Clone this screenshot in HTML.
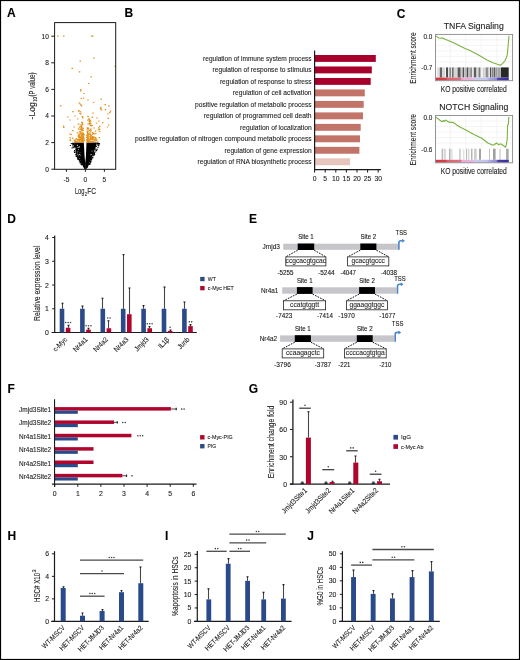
<!DOCTYPE html>
<html><head><meta charset="utf-8"><title>Figure</title>
<style>
html,body{margin:0;padding:0;background:#fff;}
svg{display:block;font-family:"Liberation Sans", sans-serif;will-change:transform;}
text{stroke:#222;stroke-width:0.1px;}
</style></head>
<body>
<svg width="520" height="660" viewBox="0 0 520 660">
<defs><linearGradient id="cbar" x1="0" x2="1" y1="0" y2="0">
<stop offset="0" stop-color="#d6363e"/><stop offset="0.14" stop-color="#d84048"/><stop offset="0.16" stop-color="#da6470"/><stop offset="0.34" stop-color="#dc7280"/>
<stop offset="0.36" stop-color="#e6acd8"/><stop offset="0.51" stop-color="#e8b4dc"/><stop offset="0.53" stop-color="#cacaf0"/><stop offset="0.70" stop-color="#c2c2ee"/>
<stop offset="0.74" stop-color="#a8a8e2"/><stop offset="0.83" stop-color="#8c8cd6"/><stop offset="0.85" stop-color="#4c3eae"/><stop offset="1" stop-color="#3a2c9e"/>
</linearGradient></defs>
<rect width="520" height="660" fill="#fff"/>
<rect x="0.5" y="0.5" width="519" height="659" fill="none" stroke="#000" stroke-width="1.2"/>
<text x="7.00" y="17.00" font-size="12" font-weight="bold" fill="#000">A</text>
<text x="124.60" y="17.00" font-size="12" font-weight="bold" fill="#000">B</text>
<text x="396.80" y="17.50" font-size="12" font-weight="bold" fill="#000">C</text>
<text x="7.20" y="222.90" font-size="12" font-weight="bold" fill="#000">D</text>
<text x="249.00" y="222.80" font-size="12" font-weight="bold" fill="#000">E</text>
<text x="7.60" y="392.80" font-size="12" font-weight="bold" fill="#000">F</text>
<text x="248.80" y="393.00" font-size="12" font-weight="bold" fill="#000">G</text>
<text x="7.60" y="539.80" font-size="12" font-weight="bold" fill="#000">H</text>
<text x="164.90" y="539.60" font-size="12" font-weight="bold" fill="#000">I</text>
<text x="307.20" y="539.70" font-size="12" font-weight="bold" fill="#000">J</text>
<path d="M76.30 142.60 L77.00 150.00 L78.60 156.50 L81.10 162.60 L83.50 167.50 L84.70 169.30 L85.20 169.30 L85.20 162.80 L84.60 156.50 L83.80 142.60 Z M97.00 142.60 L94.80 150.00 L92.20 156.50 L89.70 162.60 L87.80 167.50 L86.10 169.30 L85.30 169.30 L85.30 162.80 L85.90 156.50 L86.50 142.60 Z" fill="#000"/>
<path d="M73.9 146.5h1v1h-1zM74.6 142.8h1v1h-1zM75.8 142.7h1v1h-1zM76.3 148.7h1v1h-1zM94.8 148.5h1v1h-1zM98.4 144.7h1v1h-1zM74.0 152.0h1v1h-1zM97.0 142.6h1v1h-1zM75.0 143.6h1v1h-1zM78.1 158.6h1v1h-1zM76.2 153.6h1v1h-1zM75.3 142.7h1v1h-1zM77.2 154.7h1v1h-1zM76.5 152.3h1v1h-1zM91.1 158.0h1v1h-1zM74.4 152.0h1v1h-1zM75.7 156.1h1v1h-1zM72.7 143.3h1v1h-1zM75.9 143.7h1v1h-1zM93.2 154.4h1v1h-1zM78.8 160.4h1v1h-1zM76.1 152.5h1v1h-1zM90.9 159.3h1v1h-1zM75.9 154.3h1v1h-1zM94.1 153.9h1v1h-1zM73.6 145.7h1v1h-1zM75.4 142.5h1v1h-1zM72.6 143.3h1v1h-1zM74.6 143.4h1v1h-1zM79.2 160.3h1v1h-1zM95.2 151.4h1v1h-1zM79.2 160.1h1v1h-1zM97.5 147.1h1v1h-1zM75.3 143.7h1v1h-1zM73.9 144.9h1v1h-1zM74.7 145.4h1v1h-1zM72.6 147.3h1v1h-1zM76.4 155.0h1v1h-1zM75.3 154.6h1v1h-1zM92.2 157.6h1v1h-1zM76.1 147.8h1v1h-1zM77.4 153.5h1v1h-1zM74.9 144.5h1v1h-1zM75.4 142.7h1v1h-1zM75.9 143.1h1v1h-1zM79.7 160.4h1v1h-1zM74.9 145.2h1v1h-1zM99.1 143.3h1v1h-1zM76.3 149.4h1v1h-1zM75.1 143.1h1v1h-1zM79.3 159.0h1v1h-1zM80.8 162.8h1v1h-1zM75.5 151.2h1v1h-1zM89.2 163.7h1v1h-1zM75.7 145.3h1v1h-1zM76.9 157.3h1v1h-1zM73.1 146.6h1v1h-1zM89.2 163.9h1v1h-1zM90.8 158.7h1v1h-1zM76.7 150.6h1v1h-1zM75.0 142.5h1v1h-1zM92.7 155.1h1v1h-1zM90.1 162.4h1v1h-1zM75.7 147.2h1v1h-1zM73.6 144.3h1v1h-1zM90.0 161.2h1v1h-1zM92.6 154.0h1v1h-1zM93.8 154.2h1v1h-1zM78.1 156.7h1v1h-1zM77.2 157.8h1v1h-1zM80.9 163.5h1v1h-1zM89.1 162.7h1v1h-1zM71.9 143.4h1v1h-1zM77.4 158.3h1v1h-1zM88.8 163.8h1v1h-1zM76.9 151.3h1v1h-1zM89.1 163.4h1v1h-1zM79.4 162.2h1v1h-1zM78.9 158.9h1v1h-1zM74.1 145.9h1v1h-1zM75.8 145.3h1v1h-1zM79.7 161.5h1v1h-1zM93.9 152.2h1v1h-1zM79.7 161.7h1v1h-1zM75.6 150.7h1v1h-1zM72.6 144.1h1v1h-1zM73.0 144.0h1v1h-1zM75.6 151.5h1v1h-1zM93.6 151.5h1v1h-1zM76.4 151.6h1v1h-1zM77.5 157.3h1v1h-1zM91.9 157.0h1v1h-1zM76.1 152.9h1v1h-1zM76.7 155.1h1v1h-1zM95.7 149.7h1v1h-1zM90.1 160.5h1v1h-1zM95.2 151.6h1v1h-1zM74.4 143.5h1v1h-1zM75.7 142.8h1v1h-1zM93.9 154.5h1v1h-1zM97.7 143.7h1v1h-1zM98.9 143.6h1v1h-1zM96.6 144.7h1v1h-1zM96.0 149.9h1v1h-1zM74.1 143.8h1v1h-1zM75.3 146.7h1v1h-1zM76.9 155.9h1v1h-1zM75.6 148.8h1v1h-1zM77.3 153.2h1v1h-1zM89.4 163.9h1v1h-1zM75.8 143.1h1v1h-1zM78.6 157.5h1v1h-1zM96.5 148.4h1v1h-1zM72.3 145.3h1v1h-1zM93.4 151.9h1v1h-1zM97.3 142.7h1v1h-1zM98.0 142.8h1v1h-1zM77.2 158.2h1v1h-1zM97.4 142.8h1v1h-1zM72.6 146.7h1v1h-1zM74.3 145.4h1v1h-1zM75.7 145.0h1v1h-1zM74.8 142.6h1v1h-1zM95.8 146.1h1v1h-1zM75.8 150.2h1v1h-1zM75.8 142.5h1v1h-1zM77.9 156.2h1v1h-1zM94.4 149.6h1v1h-1zM78.4 158.7h1v1h-1zM78.6 159.2h1v1h-1zM92.6 154.9h1v1h-1zM91.2 159.1h1v1h-1zM76.3 148.1h1v1h-1zM72.8 143.4h1v1h-1zM75.9 145.2h1v1h-1zM91.1 159.4h1v1h-1zM75.3 145.7h1v1h-1zM75.2 149.3h1v1h-1zM98.2 145.4h1v1h-1zM73.8 151.3h1v1h-1zM76.2 146.2h1v1h-1zM74.7 147.6h1v1h-1zM76.0 144.4h1v1h-1zM74.8 145.4h1v1h-1zM74.8 142.6h1v1h-1zM74.2 144.9h1v1h-1zM92.5 156.7h1v1h-1zM79.5 160.5h1v1h-1zM80.6 163.9h1v1h-1zM75.2 153.7h1v1h-1zM90.5 160.9h1v1h-1zM78.2 158.5h1v1h-1zM95.7 150.3h1v1h-1zM77.5 158.9h1v1h-1zM92.4 154.8h1v1h-1zM74.6 142.5h1v1h-1zM97.6 143.1h1v1h-1zM94.0 153.3h1v1h-1zM74.0 149.9h1v1h-1zM77.3 156.6h1v1h-1zM75.7 154.2h1v1h-1zM75.3 145.2h1v1h-1zM76.4 156.1h1v1h-1zM81.0 163.6h1v1h-1zM95.9 149.7h1v1h-1zM92.9 153.1h1v1h-1zM72.9 143.6h1v1h-1zM76.2 146.1h1v1h-1zM73.1 142.7h1v1h-1zM92.4 155.1h1v1h-1zM75.5 150.6h1v1h-1zM96.5 143.3h1v1h-1zM88.6 163.7h1v1h-1zM96.7 149.2h1v1h-1zM76.0 149.0h1v1h-1zM80.1 162.6h1v1h-1zM71.7 143.6h1v1h-1zM97.3 143.5h1v1h-1zM89.9 160.8h1v1h-1zM80.2 161.1h1v1h-1zM74.1 142.4h1v1h-1zM75.1 146.1h1v1h-1zM95.2 146.3h1v1h-1zM91.5 156.7h1v1h-1zM90.2 162.0h1v1h-1zM74.9 145.8h1v1h-1zM81.4 164.4h1v1h-1zM76.3 148.6h1v1h-1zM96.8 143.1h1v1h-1zM80.4 162.3h1v1h-1zM69.8 145.1h1v1h-1zM70.7 143.1h1v1h-1zM71.5 147.5h1v1h-1zM72.1 142.8h1v1h-1zM98.7 142.9h1v1h-1zM98.1 144.7h1v1h-1z" fill="#000"/>
<path d="M78.0 149.3h0.7v0.7h-0.7zM90.3 154.6h0.7v0.7h-0.7zM91.6 150.7h0.7v0.7h-0.7zM93.8 149.7h0.7v0.7h-0.7zM79.6 151.9h0.7v0.7h-0.7zM77.6 150.9h0.7v0.7h-0.7zM79.5 154.3h0.7v0.7h-0.7zM78.8 147.3h0.7v0.7h-0.7zM80.1 154.9h0.7v0.7h-0.7zM77.9 146.8h0.7v0.7h-0.7zM77.2 145.2h0.7v0.7h-0.7zM78.8 154.0h0.7v0.7h-0.7zM91.3 154.0h0.7v0.7h-0.7zM76.9 144.8h0.7v0.7h-0.7zM77.5 147.3h0.7v0.7h-0.7zM79.0 146.3h0.7v0.7h-0.7z" fill="#fff"/>
<path d="M90.4 130.3h1.5v1.2h-1.5zM80.3 139.1h1.5v1.2h-1.5zM75.7 138.1h1.5v1.2h-1.5zM87.4 137.7h1.5v1.2h-1.5zM80.1 113.3h1.5v1.2h-1.5zM88.6 123.1h1.5v1.2h-1.5zM92.7 141.1h1.5v1.2h-1.5zM78.7 135.6h1.5v1.2h-1.5zM92.4 133.1h1.5v1.2h-1.5zM81.8 134.8h1.5v1.2h-1.5zM88.1 140.6h1.5v1.2h-1.5zM89.2 140.9h1.5v1.2h-1.5zM82.3 139.6h1.5v1.2h-1.5zM93.4 136.6h1.5v1.2h-1.5zM81.6 139.5h1.5v1.2h-1.5zM81.1 133.1h1.5v1.2h-1.5zM86.9 132.5h1.5v1.2h-1.5zM87.3 137.9h1.5v1.2h-1.5zM82.2 132.3h1.5v1.2h-1.5zM73.4 126.4h1.5v1.2h-1.5zM82.5 138.7h1.5v1.2h-1.5zM89.0 129.9h1.5v1.2h-1.5zM89.4 123.0h1.5v1.2h-1.5zM82.1 117.2h1.5v1.2h-1.5zM78.9 141.5h1.5v1.2h-1.5zM93.8 140.1h1.5v1.2h-1.5zM89.1 119.6h1.5v1.2h-1.5zM89.5 135.6h1.5v1.2h-1.5zM92.1 137.9h1.5v1.2h-1.5zM78.4 137.2h1.5v1.2h-1.5zM95.1 137.8h1.5v1.2h-1.5zM87.5 137.9h1.5v1.2h-1.5zM89.4 141.5h1.5v1.2h-1.5zM94.4 137.9h1.5v1.2h-1.5zM87.5 130.4h1.5v1.2h-1.5zM87.5 141.4h1.5v1.2h-1.5zM82.5 134.3h1.5v1.2h-1.5zM88.1 136.4h1.5v1.2h-1.5zM98.6 137.1h1.5v1.2h-1.5zM81.8 138.8h1.5v1.2h-1.5zM89.4 138.6h1.5v1.2h-1.5zM83.1 137.6h1.5v1.2h-1.5zM92.0 141.4h1.5v1.2h-1.5zM81.1 133.7h1.5v1.2h-1.5zM86.6 131.5h1.5v1.2h-1.5zM77.7 123.4h1.5v1.2h-1.5zM81.8 132.7h1.5v1.2h-1.5zM93.4 139.0h1.5v1.2h-1.5zM75.1 139.4h1.5v1.2h-1.5zM69.6 140.0h1.5v1.2h-1.5zM82.7 135.9h1.5v1.2h-1.5zM81.2 136.6h1.5v1.2h-1.5zM86.8 127.6h1.5v1.2h-1.5zM80.3 138.9h1.5v1.2h-1.5zM81.3 127.2h1.5v1.2h-1.5zM90.6 125.2h1.5v1.2h-1.5zM80.4 132.7h1.5v1.2h-1.5zM82.0 133.8h1.5v1.2h-1.5zM90.5 141.4h1.5v1.2h-1.5zM87.7 127.8h1.5v1.2h-1.5zM78.2 133.7h1.5v1.2h-1.5zM78.0 135.2h1.5v1.2h-1.5zM82.6 132.7h1.5v1.2h-1.5zM87.2 140.3h1.5v1.2h-1.5zM91.6 116.5h1.5v1.2h-1.5zM69.3 137.3h1.5v1.2h-1.5zM81.5 138.0h1.5v1.2h-1.5zM88.3 118.3h1.5v1.2h-1.5zM87.8 127.6h1.5v1.2h-1.5zM80.8 129.5h1.5v1.2h-1.5zM89.1 133.3h1.5v1.2h-1.5zM82.6 135.9h1.5v1.2h-1.5zM81.1 140.2h1.5v1.2h-1.5zM77.8 128.3h1.5v1.2h-1.5zM89.3 141.4h1.5v1.2h-1.5zM76.3 141.0h1.5v1.2h-1.5zM82.2 133.7h1.5v1.2h-1.5zM86.9 139.7h1.5v1.2h-1.5zM80.6 140.4h1.5v1.2h-1.5zM81.6 130.1h1.5v1.2h-1.5zM89.5 137.7h1.5v1.2h-1.5zM79.6 137.2h1.5v1.2h-1.5zM86.0 136.9h1.5v1.2h-1.5zM91.3 136.6h1.5v1.2h-1.5zM86.3 140.1h1.5v1.2h-1.5zM92.5 138.0h1.5v1.2h-1.5zM88.6 120.7h1.5v1.2h-1.5zM92.0 141.3h1.5v1.2h-1.5zM70.6 133.9h1.5v1.2h-1.5zM78.8 136.2h1.5v1.2h-1.5zM87.2 139.7h1.5v1.2h-1.5zM88.3 133.9h1.5v1.2h-1.5zM87.1 139.8h1.5v1.2h-1.5zM95.5 139.9h1.5v1.2h-1.5zM81.7 123.1h1.5v1.2h-1.5zM81.5 129.7h1.5v1.2h-1.5zM80.8 124.7h1.5v1.2h-1.5zM98.9 125.7h1.5v1.2h-1.5zM86.4 134.6h1.5v1.2h-1.5zM80.9 133.9h1.5v1.2h-1.5zM90.9 138.7h1.5v1.2h-1.5zM95.2 138.9h1.5v1.2h-1.5zM83.3 133.9h1.5v1.2h-1.5zM80.6 138.1h1.5v1.2h-1.5zM87.0 137.3h1.5v1.2h-1.5zM78.1 136.4h1.5v1.2h-1.5zM89.2 131.6h1.5v1.2h-1.5zM97.7 129.2h1.5v1.2h-1.5zM88.6 123.3h1.5v1.2h-1.5zM82.7 136.1h1.5v1.2h-1.5zM86.6 135.5h1.5v1.2h-1.5zM82.7 140.8h1.5v1.2h-1.5zM87.1 134.0h1.5v1.2h-1.5zM78.5 138.8h1.5v1.2h-1.5zM81.3 136.4h1.5v1.2h-1.5zM81.0 121.7h1.5v1.2h-1.5zM79.8 139.6h1.5v1.2h-1.5zM87.3 140.6h1.5v1.2h-1.5zM94.8 137.0h1.5v1.2h-1.5zM75.1 141.0h1.5v1.2h-1.5zM78.8 126.5h1.5v1.2h-1.5zM87.0 138.5h1.5v1.2h-1.5zM91.7 133.5h1.5v1.2h-1.5zM81.6 116.0h1.5v1.2h-1.5zM82.5 139.8h1.5v1.2h-1.5zM74.0 141.5h1.5v1.2h-1.5zM83.0 138.2h1.5v1.2h-1.5zM78.4 140.5h1.5v1.2h-1.5zM96.9 141.2h1.5v1.2h-1.5zM91.8 132.7h1.5v1.2h-1.5zM79.9 126.2h1.5v1.2h-1.5zM78.0 138.9h1.5v1.2h-1.5zM93.4 133.2h1.5v1.2h-1.5zM91.4 139.0h1.5v1.2h-1.5zM86.4 136.4h1.5v1.2h-1.5zM79.2 137.0h1.5v1.2h-1.5zM77.3 135.4h1.5v1.2h-1.5zM86.1 134.7h1.5v1.2h-1.5zM81.2 129.9h1.5v1.2h-1.5zM79.9 136.2h1.5v1.2h-1.5zM87.3 115.7h1.5v1.2h-1.5zM82.5 127.8h1.5v1.2h-1.5zM69.3 133.4h1.5v1.2h-1.5zM81.6 134.9h1.5v1.2h-1.5zM91.0 137.5h1.5v1.2h-1.5zM87.1 133.2h1.5v1.2h-1.5zM89.7 136.0h1.5v1.2h-1.5zM81.9 140.6h1.5v1.2h-1.5zM94.8 140.3h1.5v1.2h-1.5zM81.3 129.5h1.5v1.2h-1.5zM81.9 123.9h1.5v1.2h-1.5zM72.0 130.1h1.5v1.2h-1.5zM98.9 131.1h1.5v1.2h-1.5zM79.9 131.0h1.5v1.2h-1.5zM77.4 139.9h1.5v1.2h-1.5zM86.6 130.8h1.5v1.2h-1.5zM86.1 139.0h1.5v1.2h-1.5zM79.8 137.0h1.5v1.2h-1.5zM78.8 136.6h1.5v1.2h-1.5zM81.0 141.7h1.5v1.2h-1.5zM90.0 134.7h1.5v1.2h-1.5zM79.9 124.4h1.5v1.2h-1.5zM90.0 136.7h1.5v1.2h-1.5zM89.6 139.4h1.5v1.2h-1.5zM92.4 137.2h1.5v1.2h-1.5zM81.5 132.8h1.5v1.2h-1.5zM86.6 141.6h1.5v1.2h-1.5zM82.8 139.7h1.5v1.2h-1.5zM80.6 134.7h1.5v1.2h-1.5zM88.0 133.3h1.5v1.2h-1.5zM78.3 139.8h1.5v1.2h-1.5zM87.2 140.7h1.5v1.2h-1.5zM81.4 141.2h1.5v1.2h-1.5zM86.7 131.9h1.5v1.2h-1.5zM72.0 137.5h1.5v1.2h-1.5zM78.4 136.6h1.5v1.2h-1.5zM80.5 128.1h1.5v1.2h-1.5zM79.8 139.6h1.5v1.2h-1.5zM87.4 127.7h1.5v1.2h-1.5zM80.9 135.2h1.5v1.2h-1.5zM81.6 129.1h1.5v1.2h-1.5zM88.5 139.3h1.5v1.2h-1.5zM87.3 128.5h1.5v1.2h-1.5zM86.6 136.3h1.5v1.2h-1.5zM86.5 140.4h1.5v1.2h-1.5zM81.6 122.3h1.5v1.2h-1.5zM83.0 134.5h1.5v1.2h-1.5zM76.5 138.9h1.5v1.2h-1.5zM86.6 140.0h1.5v1.2h-1.5zM79.5 128.8h1.5v1.2h-1.5zM78.1 110.6h1.5v1.2h-1.5zM89.7 128.9h1.5v1.2h-1.5zM94.7 130.6h1.5v1.2h-1.5zM86.7 127.3h1.5v1.2h-1.5zM82.1 136.5h1.5v1.2h-1.5zM82.1 140.3h1.5v1.2h-1.5zM92.0 131.9h1.5v1.2h-1.5zM81.8 137.3h1.5v1.2h-1.5zM79.4 133.2h1.5v1.2h-1.5zM87.2 119.6h1.5v1.2h-1.5zM79.2 136.3h1.5v1.2h-1.5zM89.4 133.6h1.5v1.2h-1.5zM81.8 129.3h1.5v1.2h-1.5zM81.8 139.3h1.5v1.2h-1.5zM97.9 127.2h1.5v1.2h-1.5zM89.6 124.7h1.5v1.2h-1.5zM98.9 128.8h1.5v1.2h-1.5zM80.5 141.0h1.5v1.2h-1.5zM82.8 137.4h1.5v1.2h-1.5zM89.9 141.3h1.5v1.2h-1.5zM89.2 121.9h1.5v1.2h-1.5zM79.8 131.9h1.5v1.2h-1.5zM82.7 136.7h1.5v1.2h-1.5zM79.2 141.4h1.5v1.2h-1.5zM80.2 137.9h1.5v1.2h-1.5zM95.8 139.3h1.5v1.2h-1.5zM80.7 134.6h1.5v1.2h-1.5zM93.5 127.4h1.5v1.2h-1.5zM80.0 136.9h1.5v1.2h-1.5zM81.4 132.9h1.5v1.2h-1.5zM91.5 140.8h1.5v1.2h-1.5zM76.7 132.2h1.5v1.2h-1.5zM83.4 139.7h1.5v1.2h-1.5zM78.9 131.3h1.5v1.2h-1.5zM89.9 120.6h1.5v1.2h-1.5zM80.7 125.8h1.5v1.2h-1.5zM92.0 136.0h1.5v1.2h-1.5zM81.8 124.0h1.5v1.2h-1.5zM87.5 134.2h1.5v1.2h-1.5zM86.9 131.0h1.5v1.2h-1.5zM81.3 138.0h1.5v1.2h-1.5zM91.6 137.7h1.5v1.2h-1.5zM79.5 138.9h1.5v1.2h-1.5zM90.3 128.4h1.5v1.2h-1.5zM81.9 141.6h1.5v1.2h-1.5zM79.4 137.1h1.5v1.2h-1.5zM81.8 134.1h1.5v1.2h-1.5zM86.5 141.7h1.5v1.2h-1.5zM82.6 129.9h1.5v1.2h-1.5zM77.9 123.5h1.5v1.2h-1.5zM86.6 128.2h1.5v1.2h-1.5zM90.5 135.1h1.5v1.2h-1.5zM80.9 139.5h1.5v1.2h-1.5zM86.2 139.8h1.5v1.2h-1.5zM87.2 135.3h1.5v1.2h-1.5zM88.9 123.0h1.5v1.2h-1.5zM77.7 140.0h1.5v1.2h-1.5zM91.8 138.9h1.5v1.2h-1.5zM81.1 137.9h1.5v1.2h-1.5zM87.6 141.0h1.5v1.2h-1.5zM76.1 141.6h1.5v1.2h-1.5zM78.4 134.9h1.5v1.2h-1.5zM92.0 137.2h1.5v1.2h-1.5zM69.6 139.3h1.5v1.2h-1.5zM80.7 137.8h1.5v1.2h-1.5zM91.5 124.9h1.5v1.2h-1.5zM90.0 123.2h1.5v1.2h-1.5zM89.7 141.0h1.5v1.2h-1.5zM92.0 132.6h1.5v1.2h-1.5zM73.5 139.5h1.5v1.2h-1.5zM77.0 118.4h1.5v1.2h-1.5zM80.9 126.8h1.5v1.2h-1.5zM86.6 130.6h1.5v1.2h-1.5zM88.2 118.6h1.5v1.2h-1.5zM95.1 133.0h1.5v1.2h-1.5zM74.4 140.2h1.5v1.2h-1.5zM87.3 123.4h1.5v1.2h-1.5zM57.1 35.6h1.5v1.2h-1.5zM63.0 35.6h1.5v1.2h-1.5zM91.0 35.6h1.5v1.2h-1.5zM92.0 35.6h1.5v1.2h-1.5zM93.2 57.5h1.5v1.2h-1.5zM79.5 60.6h1.5v1.2h-1.5zM71.5 67.7h1.5v1.2h-1.5zM78.8 71.3h1.5v1.2h-1.5zM90.5 76.3h1.5v1.2h-1.5zM88.0 82.9h1.5v1.2h-1.5zM114.5 65.7h1.5v1.2h-1.5zM80.0 89.0h1.5v1.2h-1.5zM80.0 90.4h1.5v1.2h-1.5zM80.5 97.9h1.5v1.2h-1.5zM60.0 105.2h1.5v1.2h-1.5zM78.5 102.4h1.5v1.2h-1.5zM79.5 103.4h1.5v1.2h-1.5zM80.2 104.4h1.5v1.2h-1.5zM80.8 105.4h1.5v1.2h-1.5zM92.8 101.9h1.5v1.2h-1.5zM100.5 98.6h1.5v1.2h-1.5zM104.5 104.0h1.5v1.2h-1.5zM108.2 105.2h1.5v1.2h-1.5zM72.2 111.1h1.5v1.2h-1.5zM78.0 110.0h1.5v1.2h-1.5zM79.8 111.2h1.5v1.2h-1.5zM79.2 112.9h1.5v1.2h-1.5zM100.0 108.2h1.5v1.2h-1.5zM100.8 109.4h1.5v1.2h-1.5zM107.2 113.4h1.5v1.2h-1.5zM109.7 110.6h1.5v1.2h-1.5zM63.0 126.7h1.5v1.2h-1.5zM67.2 116.4h1.5v1.2h-1.5zM62.8 125.4h1.5v1.2h-1.5zM100.2 107.1h1.5v1.2h-1.5zM104.8 109.0h1.5v1.2h-1.5zM109.0 112.1h1.5v1.2h-1.5zM107.5 117.8h1.5v1.2h-1.5zM102.0 122.1h1.5v1.2h-1.5zM108.0 124.4h1.5v1.2h-1.5zM106.8 126.4h1.5v1.2h-1.5zM83.2 92.9h1.5v1.2h-1.5zM82.8 97.4h1.5v1.2h-1.5zM87.2 99.4h1.5v1.2h-1.5zM92.2 112.4h1.5v1.2h-1.5zM69.2 119.4h1.5v1.2h-1.5zM74.2 115.4h1.5v1.2h-1.5zM96.2 117.4h1.5v1.2h-1.5zM98.2 120.4h1.5v1.2h-1.5zM95.8 122.4h1.5v1.2h-1.5z" fill="#e4921e"/>
<rect x="54.6" y="22.6" width="61.1" height="146.7" fill="none" stroke="#1a1a1a" stroke-width="1"/>
<line x1="51.30" y1="169.20" x2="54.60" y2="169.20" stroke="#1a1a1a" stroke-width="1"/>
<text x="48.90" y="171.50" font-size="6.6" text-anchor="end" fill="#222">0</text>
<line x1="51.30" y1="142.60" x2="54.60" y2="142.60" stroke="#1a1a1a" stroke-width="1"/>
<text x="48.90" y="144.90" font-size="6.6" text-anchor="end" fill="#222">2</text>
<line x1="51.30" y1="116.00" x2="54.60" y2="116.00" stroke="#1a1a1a" stroke-width="1"/>
<text x="48.90" y="118.30" font-size="6.6" text-anchor="end" fill="#222">4</text>
<line x1="51.30" y1="89.40" x2="54.60" y2="89.40" stroke="#1a1a1a" stroke-width="1"/>
<text x="48.90" y="91.70" font-size="6.6" text-anchor="end" fill="#222">6</text>
<line x1="51.30" y1="62.80" x2="54.60" y2="62.80" stroke="#1a1a1a" stroke-width="1"/>
<text x="48.90" y="65.10" font-size="6.6" text-anchor="end" fill="#222">8</text>
<line x1="51.30" y1="36.20" x2="54.60" y2="36.20" stroke="#1a1a1a" stroke-width="1"/>
<text x="48.90" y="38.50" font-size="6.6" text-anchor="end" fill="#222">10</text>
<line x1="66.40" y1="169.30" x2="66.40" y2="171.80" stroke="#1a1a1a" stroke-width="1"/>
<text x="66.40" y="181.80" font-size="6.6" text-anchor="middle" fill="#222">-5</text>
<line x1="85.40" y1="169.30" x2="85.40" y2="171.80" stroke="#1a1a1a" stroke-width="1"/>
<text x="85.40" y="181.80" font-size="6.6" text-anchor="middle" fill="#222">0</text>
<line x1="104.40" y1="169.30" x2="104.40" y2="171.80" stroke="#1a1a1a" stroke-width="1"/>
<text x="104.40" y="181.80" font-size="6.6" text-anchor="middle" fill="#222">5</text>
<text x="74.90" y="193.60" font-size="8.8" textLength="9.60" lengthAdjust="spacingAndGlyphs" fill="#222">Log</text>
<text x="84.70" y="195.70" font-size="5.4" textLength="2.20" lengthAdjust="spacingAndGlyphs" fill="#222">2</text>
<text x="87.30" y="193.60" font-size="8.8" textLength="8.90" lengthAdjust="spacingAndGlyphs" fill="#222">FC</text>
<g transform="translate(34.7 119.4) rotate(-90)" fill="#222"><text x="0" y="0" font-size="8.6" textLength="17.3" lengthAdjust="spacingAndGlyphs">-Log</text><text x="17.7" y="2.1" font-size="6.2" textLength="4.6" lengthAdjust="spacingAndGlyphs">10</text><text x="23.0" y="0" font-size="8.6" textLength="23.9" lengthAdjust="spacingAndGlyphs">(P value)</text></g>
<rect x="314.80" y="55.00" width="61.00" height="6.90" fill="#a8002c"/>
<text x="311.60" y="60.70" font-size="7.4" text-anchor="end" textLength="108.50" lengthAdjust="spacingAndGlyphs" fill="#222">regulation of immune system process</text>
<rect x="314.80" y="66.48" width="57.00" height="6.90" fill="#a8002c"/>
<text x="311.60" y="72.18" font-size="7.4" text-anchor="end" textLength="99.00" lengthAdjust="spacingAndGlyphs" fill="#222">regulation of response to stimulus</text>
<rect x="314.80" y="77.96" width="55.90" height="6.90" fill="#a8002c"/>
<text x="311.60" y="83.66" font-size="7.4" text-anchor="end" textLength="91.70" lengthAdjust="spacingAndGlyphs" fill="#222">regulation of response to stress</text>
<rect x="314.80" y="89.44" width="50.00" height="6.90" fill="#c27468"/>
<text x="311.60" y="95.14" font-size="7.4" text-anchor="end" textLength="78.80" lengthAdjust="spacingAndGlyphs" fill="#222">regulation of cell activation</text>
<rect x="314.80" y="100.92" width="48.90" height="6.90" fill="#c27468"/>
<text x="311.60" y="106.62" font-size="7.4" text-anchor="end" textLength="116.50" lengthAdjust="spacingAndGlyphs" fill="#222">positive regulation of metabolic process</text>
<rect x="314.80" y="112.40" width="48.20" height="6.90" fill="#c27468"/>
<text x="311.60" y="118.10" font-size="7.4" text-anchor="end" textLength="107.80" lengthAdjust="spacingAndGlyphs" fill="#222">regulation of programmed cell death</text>
<rect x="314.80" y="123.88" width="45.90" height="6.90" fill="#c27468"/>
<text x="311.60" y="129.58" font-size="7.4" text-anchor="end" textLength="71.60" lengthAdjust="spacingAndGlyphs" fill="#222">regulation of localization</text>
<rect x="314.80" y="135.36" width="45.20" height="6.90" fill="#c27468"/>
<text x="311.60" y="141.06" font-size="7.4" text-anchor="end" textLength="176.60" lengthAdjust="spacingAndGlyphs" fill="#222">positive regulation of nitrogen compound metabolic process</text>
<rect x="314.80" y="146.84" width="44.60" height="6.90" fill="#c27468"/>
<text x="311.60" y="152.54" font-size="7.4" text-anchor="end" textLength="87.10" lengthAdjust="spacingAndGlyphs" fill="#222">regulation of gene expression</text>
<rect x="314.80" y="158.32" width="35.30" height="6.90" fill="#e6c5bc"/>
<text x="311.60" y="164.02" font-size="7.4" text-anchor="end" textLength="114.10" lengthAdjust="spacingAndGlyphs" fill="#222">regulation of RNA biosynthetic process</text>
<line x1="314.60" y1="50.60" x2="314.60" y2="170.20" stroke="#1a1a1a" stroke-width="1.2"/>
<line x1="314.00" y1="169.60" x2="380.90" y2="169.60" stroke="#1a1a1a" stroke-width="1.2"/>
<line x1="314.60" y1="169.60" x2="314.60" y2="172.60" stroke="#1a1a1a" stroke-width="1"/>
<text x="314.60" y="181.30" font-size="6.8" text-anchor="middle" fill="#222">0</text>
<line x1="325.20" y1="169.60" x2="325.20" y2="172.60" stroke="#1a1a1a" stroke-width="1"/>
<text x="325.20" y="181.30" font-size="6.8" text-anchor="middle" fill="#222">5</text>
<line x1="335.80" y1="169.60" x2="335.80" y2="172.60" stroke="#1a1a1a" stroke-width="1"/>
<text x="335.80" y="181.30" font-size="6.8" text-anchor="middle" fill="#222">10</text>
<line x1="346.40" y1="169.60" x2="346.40" y2="172.60" stroke="#1a1a1a" stroke-width="1"/>
<text x="346.40" y="181.30" font-size="6.8" text-anchor="middle" fill="#222">15</text>
<line x1="357.00" y1="169.60" x2="357.00" y2="172.60" stroke="#1a1a1a" stroke-width="1"/>
<text x="357.00" y="181.30" font-size="6.8" text-anchor="middle" fill="#222">20</text>
<line x1="367.60" y1="169.60" x2="367.60" y2="172.60" stroke="#1a1a1a" stroke-width="1"/>
<text x="367.60" y="181.30" font-size="6.8" text-anchor="middle" fill="#222">25</text>
<line x1="378.20" y1="169.60" x2="378.20" y2="172.60" stroke="#1a1a1a" stroke-width="1"/>
<text x="378.20" y="181.30" font-size="6.8" text-anchor="middle" fill="#222">30</text>
<line x1="450.20" y1="34.40" x2="450.20" y2="67.40" stroke="#ececec" stroke-width="0.6"/>
<line x1="465.60" y1="34.40" x2="465.60" y2="67.40" stroke="#ececec" stroke-width="0.6"/>
<line x1="481.20" y1="34.40" x2="481.20" y2="67.40" stroke="#ececec" stroke-width="0.6"/>
<line x1="496.80" y1="34.40" x2="496.80" y2="67.40" stroke="#ececec" stroke-width="0.6"/>
<line x1="435.50" y1="39.90" x2="512.60" y2="39.90" stroke="#ececec" stroke-width="0.6"/>
<line x1="435.50" y1="45.40" x2="512.60" y2="45.40" stroke="#ececec" stroke-width="0.6"/>
<line x1="435.50" y1="50.90" x2="512.60" y2="50.90" stroke="#ececec" stroke-width="0.6"/>
<line x1="435.50" y1="56.40" x2="512.60" y2="56.40" stroke="#ececec" stroke-width="0.6"/>
<line x1="435.50" y1="61.90" x2="512.60" y2="61.90" stroke="#ececec" stroke-width="0.6"/>
<rect x="436.20" y="67.40" width="1.00" height="10.20" fill="#f4f4f4"/>
<rect x="437.20" y="67.40" width="2.60" height="10.20" fill="#dedede"/>
<rect x="439.80" y="67.40" width="2.40" height="10.20" fill="#666"/>
<rect x="442.20" y="67.40" width="3.00" height="10.20" fill="#d6d6d6"/>
<rect x="446.00" y="67.40" width="2.00" height="10.20" fill="#4c4c4c"/>
<rect x="448.20" y="67.40" width="1.20" height="10.20" fill="#dcdcdc"/>
<rect x="449.40" y="67.40" width="1.50" height="10.20" fill="#7a7a7a"/>
<rect x="451.80" y="67.40" width="2.00" height="10.20" fill="#707070"/>
<rect x="453.80" y="67.40" width="3.70" height="10.20" fill="#d6d6d6"/>
<rect x="457.60" y="67.40" width="2.40" height="10.20" fill="#5a5a5a"/>
<rect x="460.00" y="67.40" width="1.50" height="10.20" fill="#999"/>
<rect x="462.50" y="67.40" width="1.50" height="10.20" fill="#505050"/>
<rect x="464.20" y="67.40" width="2.10" height="10.20" fill="#b8b8b8"/>
<rect x="466.60" y="67.40" width="1.80" height="10.20" fill="#4e4e4e"/>
<rect x="468.60" y="67.40" width="1.40" height="10.20" fill="#bcbcbc"/>
<rect x="470.20" y="67.40" width="1.80" height="10.20" fill="#8a8a8a"/>
<rect x="472.20" y="67.40" width="1.40" height="10.20" fill="#e0e0e0"/>
<rect x="473.80" y="67.40" width="2.60" height="10.20" fill="#5e5e5e"/>
<rect x="476.60" y="67.40" width="1.60" height="10.20" fill="#d4d4d4"/>
<rect x="478.50" y="67.40" width="2.00" height="10.20" fill="#7c7c7c"/>
<rect x="481.00" y="67.40" width="2.00" height="10.20" fill="#f0f0f0"/>
<rect x="483.20" y="67.40" width="1.40" height="10.20" fill="#c4c4c4"/>
<rect x="485.50" y="67.40" width="1.50" height="10.20" fill="#8c8c8c"/>
<rect x="487.00" y="67.40" width="1.50" height="10.20" fill="#909090"/>
<rect x="488.60" y="67.40" width="1.00" height="10.20" fill="#d0d0d0"/>
<rect x="490.00" y="67.40" width="1.20" height="10.20" fill="#4e4e4e"/>
<rect x="491.60" y="67.40" width="1.60" height="10.20" fill="#8a8a8a"/>
<rect x="493.50" y="67.40" width="1.50" height="10.20" fill="#606060"/>
<rect x="495.20" y="67.40" width="2.30" height="10.20" fill="#9c9c9c"/>
<rect x="497.60" y="67.40" width="2.80" height="10.20" fill="#a4a4a4"/>
<rect x="500.80" y="67.40" width="7.90" height="10.20" fill="#282828"/>
<rect x="435.6" y="77.60" width="73.2" height="2.80" fill="url(#cbar)"/>
<path d="M436.0 35.8 L437.5 37.2 L439.0 38.0 L440.5 38.3 L442.0 38.0 L443.5 38.4 L445.0 39.2 L447.0 40.0 L450.0 41.3 L455.0 43.6 L460.0 46.0 L465.0 48.4 L470.0 50.6 L478.5 55.0 L487.0 60.0 L493.0 62.7 L500.3 65.3 L502.5 63.6 L504.7 61.0 L506.2 58.0 L507.3 54.6 L508.1 45.7 L509.0 35.8" fill="none" stroke="#7cb342" stroke-width="1.1" stroke-linejoin="round"/>
<rect x="435.5" y="34.4" width="77.1" height="46.3" fill="none" stroke="#8a8a8a" stroke-width="0.9"/>
<text x="473.80" y="28.80" font-size="8.6" text-anchor="middle" textLength="60.00" lengthAdjust="spacingAndGlyphs" fill="#222">TNFA Signaling</text>
<text x="432.30" y="39.30" font-size="6.4" text-anchor="end" fill="#222">0.0</text>
<text x="432.30" y="70.20" font-size="6.4" text-anchor="end" fill="#222">-0.7</text>
<text x="473.80" y="91.80" font-size="8.7" text-anchor="middle" textLength="66.00" lengthAdjust="spacingAndGlyphs" fill="#222">KO positive correlated</text>
<text transform="translate(416.2 58.0) rotate(-90)" font-size="8.6" text-anchor="middle" textLength="51.4" lengthAdjust="spacingAndGlyphs" fill="#222">Enrichment score</text>
<line x1="450.20" y1="115.50" x2="450.20" y2="148.70" stroke="#ececec" stroke-width="0.6"/>
<line x1="465.60" y1="115.50" x2="465.60" y2="148.70" stroke="#ececec" stroke-width="0.6"/>
<line x1="481.20" y1="115.50" x2="481.20" y2="148.70" stroke="#ececec" stroke-width="0.6"/>
<line x1="496.80" y1="115.50" x2="496.80" y2="148.70" stroke="#ececec" stroke-width="0.6"/>
<line x1="435.50" y1="121.03" x2="512.60" y2="121.03" stroke="#ececec" stroke-width="0.6"/>
<line x1="435.50" y1="126.57" x2="512.60" y2="126.57" stroke="#ececec" stroke-width="0.6"/>
<line x1="435.50" y1="132.10" x2="512.60" y2="132.10" stroke="#ececec" stroke-width="0.6"/>
<line x1="435.50" y1="137.63" x2="512.60" y2="137.63" stroke="#ececec" stroke-width="0.6"/>
<line x1="435.50" y1="143.17" x2="512.60" y2="143.17" stroke="#ececec" stroke-width="0.6"/>
<rect x="441.70" y="148.70" width="1.10" height="11.10" fill="#a8a8a8"/>
<rect x="443.60" y="148.70" width="2.40" height="11.10" fill="#dadada"/>
<rect x="449.00" y="148.70" width="1.50" height="11.10" fill="#b0b0b0"/>
<rect x="451.30" y="148.70" width="1.20" height="11.10" fill="#dadada"/>
<rect x="459.40" y="148.70" width="1.10" height="11.10" fill="#b4b4b4"/>
<rect x="463.20" y="148.70" width="1.20" height="11.10" fill="#dedede"/>
<rect x="466.00" y="148.70" width="1.00" height="11.10" fill="#b8b8b8"/>
<rect x="467.80" y="148.70" width="1.60" height="11.10" fill="#d8d8d8"/>
<rect x="471.00" y="148.70" width="1.50" height="11.10" fill="#b4b4b4"/>
<rect x="474.00" y="148.70" width="2.70" height="11.10" fill="#cdcdcd"/>
<rect x="479.00" y="148.70" width="2.00" height="11.10" fill="#a4a4a4"/>
<rect x="489.00" y="148.70" width="0.80" height="11.10" fill="#b4b4b4"/>
<rect x="493.00" y="148.70" width="2.60" height="11.10" fill="#a0a0a0"/>
<rect x="499.50" y="148.70" width="1.10" height="11.10" fill="#c4c4c4"/>
<rect x="506.00" y="148.70" width="2.70" height="11.10" fill="#acacac"/>
<rect x="435.6" y="159.80" width="73.2" height="2.80" fill="url(#cbar)"/>
<path d="M435.8 117.1 L438.0 118.8 L440.0 120.3 L442.1 121.7 L443.6 120.5 L444.4 121.3 L445.5 120.0 L447.0 121.0 L449.0 122.3 L450.5 122.1 L451.5 122.6 L452.8 122.3 L459.4 126.7 L466.3 130.3 L474.0 134.6 L481.7 138.3 L487.9 143.0 L492.9 145.3 L494.5 144.5 L496.4 143.0 L498.7 144.7 L500.6 143.7 L503.0 145.3 L505.7 147.2 L506.4 144.1 L507.2 139.5 L507.6 125.2 L508.4 124.4 L508.7 117.5 L509.5 117.5" fill="none" stroke="#7cb342" stroke-width="1.1" stroke-linejoin="round"/>
<rect x="435.5" y="115.5" width="77.1" height="47.3" fill="none" stroke="#8a8a8a" stroke-width="0.9"/>
<text x="473.80" y="109.70" font-size="8.6" text-anchor="middle" textLength="69.00" lengthAdjust="spacingAndGlyphs" fill="#222">NOTCH Signaling</text>
<text x="432.30" y="120.40" font-size="6.4" text-anchor="end" fill="#222">0.0</text>
<text x="432.30" y="151.50" font-size="6.4" text-anchor="end" fill="#222">-0.6</text>
<text x="473.80" y="173.90" font-size="8.7" text-anchor="middle" textLength="66.00" lengthAdjust="spacingAndGlyphs" fill="#222">KO positive correlated</text>
<text transform="translate(416.2 139.7) rotate(-90)" font-size="8.6" text-anchor="middle" textLength="51.4" lengthAdjust="spacingAndGlyphs" fill="#222">Enrichment score</text>
<line x1="54.70" y1="235.50" x2="54.70" y2="333.00" stroke="#1a1a1a" stroke-width="1.2"/>
<line x1="51.60" y1="332.50" x2="196.80" y2="332.50" stroke="#1a1a1a" stroke-width="1.2"/>
<line x1="52.20" y1="332.50" x2="54.70" y2="332.50" stroke="#1a1a1a" stroke-width="1"/>
<text x="48.90" y="335.00" font-size="6.9" text-anchor="end" fill="#222">0</text>
<line x1="52.20" y1="308.75" x2="54.70" y2="308.75" stroke="#1a1a1a" stroke-width="1"/>
<text x="48.90" y="311.25" font-size="6.9" text-anchor="end" fill="#222">1</text>
<line x1="52.20" y1="285.00" x2="54.70" y2="285.00" stroke="#1a1a1a" stroke-width="1"/>
<text x="48.90" y="287.50" font-size="6.9" text-anchor="end" fill="#222">2</text>
<line x1="52.20" y1="261.25" x2="54.70" y2="261.25" stroke="#1a1a1a" stroke-width="1"/>
<text x="48.90" y="263.75" font-size="6.9" text-anchor="end" fill="#222">3</text>
<line x1="52.20" y1="237.50" x2="54.70" y2="237.50" stroke="#1a1a1a" stroke-width="1"/>
<text x="48.90" y="240.00" font-size="6.9" text-anchor="end" fill="#222">4</text>
<line x1="62.50" y1="308.75" x2="62.50" y2="303.29" stroke="#474747" stroke-width="1.1"/>
<path d="M61.30 302.69 H63.70 L63.00 304.29 H62.00 Z" fill="#222"/>
<line x1="68.50" y1="327.75" x2="68.50" y2="325.38" stroke="#474747" stroke-width="1.1"/>
<path d="M67.30 324.77 H69.70 L69.00 326.38 H68.00 Z" fill="#222"/>
<rect x="59.70" y="308.75" width="4.60" height="23.75" fill="#2a4a8a"/>
<rect x="65.80" y="327.75" width="4.60" height="4.75" fill="#b0062e"/>
<circle cx="65.70" cy="322.57" r="0.78" fill="#3c3c3c"/>
<circle cx="68.10" cy="322.57" r="0.78" fill="#3c3c3c"/>
<circle cx="70.50" cy="322.57" r="0.78" fill="#3c3c3c"/>
<text x="67.70" y="340.10" font-size="7.2" text-anchor="end" textLength="16.89" lengthAdjust="spacingAndGlyphs" fill="#222" transform="rotate(-45 67.70 340.10)">c-Myc</text>
<line x1="82.50" y1="308.75" x2="82.50" y2="306.14" stroke="#474747" stroke-width="1.1"/>
<path d="M81.30 305.54 H83.70 L83.00 307.14 H82.00 Z" fill="#222"/>
<line x1="88.50" y1="329.65" x2="88.50" y2="328.46" stroke="#474747" stroke-width="1.1"/>
<path d="M87.30 327.86 H89.70 L89.00 329.46 H88.00 Z" fill="#222"/>
<rect x="80.10" y="308.75" width="4.60" height="23.75" fill="#2a4a8a"/>
<rect x="86.20" y="329.65" width="4.60" height="2.85" fill="#b0062e"/>
<circle cx="86.10" cy="325.66" r="0.78" fill="#3c3c3c"/>
<circle cx="88.50" cy="325.66" r="0.78" fill="#3c3c3c"/>
<circle cx="90.90" cy="325.66" r="0.78" fill="#3c3c3c"/>
<text x="88.10" y="340.10" font-size="7.2" text-anchor="end" textLength="17.26" lengthAdjust="spacingAndGlyphs" fill="#222" transform="rotate(-45 88.10 340.10)">Nr4a1</text>
<line x1="102.50" y1="308.75" x2="102.50" y2="298.30" stroke="#474747" stroke-width="1.1"/>
<path d="M101.30 297.70 H103.70 L103.00 299.30 H102.00 Z" fill="#222"/>
<line x1="108.50" y1="328.23" x2="108.50" y2="320.86" stroke="#474747" stroke-width="1.1"/>
<path d="M107.30 320.26 H109.70 L109.00 321.86 H108.00 Z" fill="#222"/>
<rect x="100.50" y="308.75" width="4.60" height="23.75" fill="#2a4a8a"/>
<rect x="106.60" y="328.23" width="4.60" height="4.27" fill="#b0062e"/>
<circle cx="107.70" cy="318.06" r="0.78" fill="#3c3c3c"/>
<circle cx="110.10" cy="318.06" r="0.78" fill="#3c3c3c"/>
<text x="108.50" y="340.10" font-size="7.2" text-anchor="end" textLength="17.26" lengthAdjust="spacingAndGlyphs" fill="#222" transform="rotate(-45 108.50 340.10)">Nr4a2</text>
<line x1="123.50" y1="308.75" x2="123.50" y2="254.60" stroke="#474747" stroke-width="1.1"/>
<path d="M122.30 254.00 H124.70 L124.00 255.60 H123.00 Z" fill="#222"/>
<line x1="129.50" y1="314.21" x2="129.50" y2="288.09" stroke="#474747" stroke-width="1.1"/>
<path d="M128.30 287.49 H130.70 L130.00 289.09 H129.00 Z" fill="#222"/>
<rect x="120.90" y="308.75" width="4.60" height="23.75" fill="#2a4a8a"/>
<rect x="127.00" y="314.21" width="4.60" height="18.29" fill="#b0062e"/>
<text x="128.90" y="340.10" font-size="7.2" text-anchor="end" textLength="17.26" lengthAdjust="spacingAndGlyphs" fill="#222" transform="rotate(-45 128.90 340.10)">Nr4a3</text>
<line x1="143.50" y1="308.75" x2="143.50" y2="305.66" stroke="#474747" stroke-width="1.1"/>
<path d="M142.30 305.06 H144.70 L144.00 306.66 H143.00 Z" fill="#222"/>
<line x1="149.50" y1="328.23" x2="149.50" y2="326.56" stroke="#474747" stroke-width="1.1"/>
<path d="M148.30 325.96 H150.70 L150.00 327.56 H149.00 Z" fill="#222"/>
<rect x="141.30" y="308.75" width="4.60" height="23.75" fill="#2a4a8a"/>
<rect x="147.40" y="328.23" width="4.60" height="4.27" fill="#b0062e"/>
<circle cx="147.30" cy="323.76" r="0.78" fill="#3c3c3c"/>
<circle cx="149.70" cy="323.76" r="0.78" fill="#3c3c3c"/>
<circle cx="152.10" cy="323.76" r="0.78" fill="#3c3c3c"/>
<text x="149.30" y="340.10" font-size="7.2" text-anchor="end" textLength="16.90" lengthAdjust="spacingAndGlyphs" fill="#222" transform="rotate(-45 149.30 340.10)">Jmjd3</text>
<line x1="164.50" y1="308.75" x2="164.50" y2="287.14" stroke="#474747" stroke-width="1.1"/>
<path d="M163.30 286.54 H165.70 L165.00 288.14 H164.00 Z" fill="#222"/>
<line x1="170.50" y1="330.84" x2="170.50" y2="330.12" stroke="#474747" stroke-width="1.1"/>
<path d="M169.30 329.52 H171.70 L171.00 331.12 H170.00 Z" fill="#222"/>
<rect x="161.70" y="308.75" width="4.60" height="23.75" fill="#2a4a8a"/>
<rect x="167.80" y="330.84" width="4.60" height="1.66" fill="#b0062e"/>
<circle cx="170.10" cy="327.32" r="0.78" fill="#3c3c3c"/>
<text x="169.70" y="340.10" font-size="7.2" text-anchor="end" textLength="12.45" lengthAdjust="spacingAndGlyphs" fill="#222" transform="rotate(-45 169.70 340.10)">IL1β</text>
<line x1="184.50" y1="308.75" x2="184.50" y2="302.10" stroke="#474747" stroke-width="1.1"/>
<path d="M183.30 301.50 H185.70 L185.00 303.10 H184.00 Z" fill="#222"/>
<line x1="190.50" y1="326.09" x2="190.50" y2="324.66" stroke="#474747" stroke-width="1.1"/>
<path d="M189.30 324.06 H191.70 L191.00 325.66 H190.00 Z" fill="#222"/>
<rect x="182.10" y="308.75" width="4.60" height="23.75" fill="#2a4a8a"/>
<rect x="188.20" y="326.09" width="4.60" height="6.41" fill="#b0062e"/>
<circle cx="189.30" cy="321.86" r="0.78" fill="#3c3c3c"/>
<circle cx="191.70" cy="321.86" r="0.78" fill="#3c3c3c"/>
<text x="190.10" y="340.10" font-size="7.2" text-anchor="end" textLength="13.74" lengthAdjust="spacingAndGlyphs" fill="#222" transform="rotate(-45 190.10 340.10)">Junb</text>
<text transform="translate(39.8 283.3) rotate(-90)" font-size="9.2" text-anchor="middle" textLength="75.4" lengthAdjust="spacingAndGlyphs" fill="#222">Relative expression level</text>
<rect x="200.20" y="276.90" width="4.40" height="4.30" fill="#2a4a8a"/>
<text x="207.80" y="281.00" font-size="5.9" textLength="8.00" lengthAdjust="spacingAndGlyphs" fill="#222">WT</text>
<rect x="200.20" y="286.00" width="4.40" height="4.30" fill="#b0062e"/>
<text x="207.80" y="290.00" font-size="5.9" textLength="26.00" lengthAdjust="spacingAndGlyphs" fill="#222">c-Myc HET</text>
<rect x="283.20" y="243.70" width="115.10" height="6.10" fill="#c6c5ca"/>
<text x="280.00" y="249.20" font-size="6.9" text-anchor="end" textLength="17.40" lengthAdjust="spacingAndGlyphs" fill="#222">Jmjd3</text>
<rect x="297.70" y="243.50" width="16.50" height="6.50" fill="#000"/>
<line x1="297.70" y1="250.20" x2="285.80" y2="256.90" stroke="#111" stroke-width="1.0" stroke-dasharray="1.7 1.1"/>
<line x1="314.20" y1="250.20" x2="325.90" y2="256.90" stroke="#111" stroke-width="1.0" stroke-dasharray="1.7 1.1"/>
<rect x="285.80" y="256.90" width="40.10" height="9.00" fill="#fff" stroke="#222" stroke-width="0.8"/>
<text x="305.85" y="263.40" font-size="6.7" text-anchor="middle" fill="#2a2a2a">ccgcacgtgcac</text>
<text x="305.95" y="239.20" font-size="6.4" text-anchor="middle" textLength="15.60" lengthAdjust="spacingAndGlyphs" fill="#111">Site 1</text>
<rect x="360.30" y="243.50" width="16.10" height="6.50" fill="#000"/>
<line x1="360.30" y1="250.20" x2="347.60" y2="256.90" stroke="#111" stroke-width="1.0" stroke-dasharray="1.7 1.1"/>
<line x1="376.40" y1="250.20" x2="388.80" y2="256.90" stroke="#111" stroke-width="1.0" stroke-dasharray="1.7 1.1"/>
<rect x="347.60" y="256.90" width="41.20" height="9.00" fill="#fff" stroke="#222" stroke-width="0.8"/>
<text x="368.20" y="263.40" font-size="6.7" text-anchor="middle" fill="#2a2a2a">gcacgtgccc</text>
<text x="368.35" y="239.20" font-size="6.4" text-anchor="middle" textLength="15.60" lengthAdjust="spacingAndGlyphs" fill="#111">Site 2</text>
<text x="277.50" y="274.60" font-size="6.5" textLength="15.90" lengthAdjust="spacingAndGlyphs" fill="#111">-5255</text>
<text x="318.10" y="274.60" font-size="6.5" textLength="16.50" lengthAdjust="spacingAndGlyphs" fill="#111">-5244</text>
<text x="340.40" y="274.60" font-size="6.5" textLength="15.60" lengthAdjust="spacingAndGlyphs" fill="#111">-4047</text>
<text x="381.00" y="274.60" font-size="6.5" textLength="16.10" lengthAdjust="spacingAndGlyphs" fill="#111">-4038</text>
<path d="M398.9 249.8 V242.7 Q398.9 240.7 400.9 240.7 H402.7" fill="none" stroke="#4a86c8" stroke-width="1.6"/>
<path d="M402.2 238.7 L404.9 240.7 L402.2 242.7 Z" fill="#4a86c8"/>
<text x="401.30" y="235.00" font-size="6.6" text-anchor="middle" textLength="11.50" lengthAdjust="spacingAndGlyphs" fill="#111">TSS</text>
<rect x="282.20" y="287.30" width="114.40" height="6.40" fill="#c6c5ca"/>
<text x="278.40" y="293.10" font-size="6.9" text-anchor="end" textLength="17.40" lengthAdjust="spacingAndGlyphs" fill="#222">Nr4a1</text>
<rect x="296.90" y="287.10" width="15.70" height="6.80" fill="#000"/>
<line x1="296.90" y1="294.10" x2="283.50" y2="300.80" stroke="#111" stroke-width="1.0" stroke-dasharray="1.7 1.1"/>
<line x1="312.60" y1="294.10" x2="325.60" y2="300.80" stroke="#111" stroke-width="1.0" stroke-dasharray="1.7 1.1"/>
<rect x="283.50" y="300.80" width="42.10" height="9.00" fill="#fff" stroke="#222" stroke-width="0.8"/>
<text x="304.55" y="307.30" font-size="6.7" text-anchor="middle" fill="#2a2a2a">ccatgtggtt</text>
<text x="304.75" y="282.60" font-size="6.4" text-anchor="middle" textLength="15.60" lengthAdjust="spacingAndGlyphs" fill="#111">Site 1</text>
<rect x="359.10" y="287.10" width="15.90" height="6.80" fill="#000"/>
<line x1="359.10" y1="294.10" x2="346.40" y2="300.80" stroke="#111" stroke-width="1.0" stroke-dasharray="1.7 1.1"/>
<line x1="375.00" y1="294.10" x2="387.40" y2="300.80" stroke="#111" stroke-width="1.0" stroke-dasharray="1.7 1.1"/>
<rect x="346.40" y="300.80" width="41.00" height="9.00" fill="#fff" stroke="#222" stroke-width="0.8"/>
<text x="366.90" y="307.30" font-size="6.7" text-anchor="middle" fill="#2a2a2a">ggaaggtggc</text>
<text x="367.05" y="282.60" font-size="6.4" text-anchor="middle" textLength="15.60" lengthAdjust="spacingAndGlyphs" fill="#111">Site 2</text>
<text x="276.10" y="318.30" font-size="6.5" textLength="16.10" lengthAdjust="spacingAndGlyphs" fill="#111">-7423</text>
<text x="317.00" y="318.30" font-size="6.5" textLength="16.00" lengthAdjust="spacingAndGlyphs" fill="#111">-7414</text>
<text x="338.30" y="318.30" font-size="6.5" textLength="16.40" lengthAdjust="spacingAndGlyphs" fill="#111">-1970</text>
<text x="379.30" y="318.30" font-size="6.5" textLength="16.10" lengthAdjust="spacingAndGlyphs" fill="#111">-1677</text>
<path d="M397.5 293.7 V286.3 Q397.5 284.3 399.5 284.3 H401.3" fill="none" stroke="#4a86c8" stroke-width="1.6"/>
<path d="M400.8 282.3 L403.5 284.3 L400.8 286.3 Z" fill="#4a86c8"/>
<text x="399.90" y="280.70" font-size="6.6" text-anchor="middle" textLength="11.50" lengthAdjust="spacingAndGlyphs" fill="#111">TSS</text>
<rect x="280.10" y="335.40" width="114.30" height="6.40" fill="#c6c5ca"/>
<text x="277.10" y="341.20" font-size="6.9" text-anchor="end" textLength="17.40" lengthAdjust="spacingAndGlyphs" fill="#222">Nr4a2</text>
<rect x="294.80" y="335.20" width="16.10" height="6.80" fill="#000"/>
<line x1="294.80" y1="342.20" x2="282.20" y2="348.90" stroke="#111" stroke-width="1.0" stroke-dasharray="1.7 1.1"/>
<line x1="310.90" y1="342.20" x2="323.70" y2="348.90" stroke="#111" stroke-width="1.0" stroke-dasharray="1.7 1.1"/>
<rect x="282.20" y="348.90" width="41.50" height="9.00" fill="#fff" stroke="#222" stroke-width="0.8"/>
<text x="302.95" y="355.40" font-size="6.7" text-anchor="middle" fill="#2a2a2a">ccaagagctc</text>
<text x="302.85" y="330.80" font-size="6.4" text-anchor="middle" textLength="15.60" lengthAdjust="spacingAndGlyphs" fill="#111">Site 1</text>
<rect x="356.80" y="335.20" width="15.90" height="6.80" fill="#000"/>
<line x1="356.80" y1="342.20" x2="344.40" y2="348.90" stroke="#111" stroke-width="1.0" stroke-dasharray="1.7 1.1"/>
<line x1="372.70" y1="342.20" x2="386.20" y2="348.90" stroke="#111" stroke-width="1.0" stroke-dasharray="1.7 1.1"/>
<rect x="344.40" y="348.90" width="41.80" height="9.00" fill="#fff" stroke="#222" stroke-width="0.8"/>
<text x="365.30" y="355.40" font-size="6.7" text-anchor="middle" fill="#2a2a2a">ccccacgtgtga</text>
<text x="364.75" y="330.80" font-size="6.4" text-anchor="middle" textLength="15.60" lengthAdjust="spacingAndGlyphs" fill="#111">Site 2</text>
<text x="274.00" y="366.50" font-size="6.5" textLength="16.80" lengthAdjust="spacingAndGlyphs" fill="#111">-3796</text>
<text x="314.70" y="366.50" font-size="6.5" textLength="16.40" lengthAdjust="spacingAndGlyphs" fill="#111">-3787</text>
<text x="338.30" y="366.50" font-size="6.5" textLength="12.10" lengthAdjust="spacingAndGlyphs" fill="#111">-221</text>
<text x="379.30" y="366.50" font-size="6.5" textLength="12.10" lengthAdjust="spacingAndGlyphs" fill="#111">-210</text>
<path d="M395.2 341.8 V334.4 Q395.2 332.4 397.2 332.4 H399.0" fill="none" stroke="#4a86c8" stroke-width="1.6"/>
<path d="M398.5 330.4 L401.2 332.4 L398.5 334.4 Z" fill="#4a86c8"/>
<text x="397.60" y="326.00" font-size="6.6" text-anchor="middle" textLength="11.50" lengthAdjust="spacingAndGlyphs" fill="#111">TSS</text>
<line x1="170.89" y1="409.00" x2="176.21" y2="409.00" stroke="#4a4a4a" stroke-width="1.0"/>
<line x1="176.21" y1="407.80" x2="176.21" y2="410.20" stroke="#222" stroke-width="1.2"/>
<rect x="54.70" y="407.10" width="116.19" height="3.50" fill="#b0062e"/>
<rect x="54.70" y="410.60" width="23.10" height="3.20" fill="#2a4a8a"/>
<text x="51.20" y="412.10" font-size="6.4" text-anchor="end" textLength="32.10" lengthAdjust="spacingAndGlyphs" fill="#222">Jmjd3Site1</text>
<circle cx="181.71" cy="409.10" r="0.78" fill="#3c3c3c"/>
<circle cx="184.11" cy="409.10" r="0.78" fill="#3c3c3c"/>
<line x1="114.07" y1="422.35" x2="117.30" y2="422.35" stroke="#4a4a4a" stroke-width="1.0"/>
<line x1="117.30" y1="421.15" x2="117.30" y2="423.55" stroke="#222" stroke-width="1.2"/>
<rect x="54.70" y="420.45" width="59.37" height="3.50" fill="#b0062e"/>
<rect x="54.70" y="423.95" width="23.10" height="3.20" fill="#2a4a8a"/>
<text x="51.20" y="425.45" font-size="6.4" text-anchor="end" textLength="32.10" lengthAdjust="spacingAndGlyphs" fill="#222">Jmjd3Site2</text>
<circle cx="122.80" cy="422.45" r="0.78" fill="#3c3c3c"/>
<circle cx="125.20" cy="422.45" r="0.78" fill="#3c3c3c"/>
<rect x="54.70" y="433.80" width="76.69" height="3.50" fill="#b0062e"/>
<rect x="54.70" y="437.30" width="23.10" height="3.20" fill="#2a4a8a"/>
<text x="51.20" y="438.80" font-size="6.4" text-anchor="end" textLength="32.10" lengthAdjust="spacingAndGlyphs" fill="#222">Nr4a1Site1</text>
<circle cx="137.87" cy="435.80" r="0.78" fill="#3c3c3c"/>
<circle cx="140.27" cy="435.80" r="0.78" fill="#3c3c3c"/>
<circle cx="142.67" cy="435.80" r="0.78" fill="#3c3c3c"/>
<rect x="54.70" y="447.15" width="38.81" height="3.50" fill="#b0062e"/>
<rect x="54.70" y="450.65" width="23.10" height="3.20" fill="#2a4a8a"/>
<text x="51.20" y="452.15" font-size="6.4" text-anchor="end" textLength="32.10" lengthAdjust="spacingAndGlyphs" fill="#222">Nr4a1Site2</text>
<rect x="54.70" y="460.50" width="38.81" height="3.50" fill="#b0062e"/>
<rect x="54.70" y="464.00" width="23.10" height="3.20" fill="#2a4a8a"/>
<text x="51.20" y="465.50" font-size="6.4" text-anchor="end" textLength="32.10" lengthAdjust="spacingAndGlyphs" fill="#222">Nr4a2Site1</text>
<line x1="122.38" y1="475.75" x2="126.54" y2="475.75" stroke="#4a4a4a" stroke-width="1.0"/>
<line x1="126.54" y1="474.55" x2="126.54" y2="476.95" stroke="#222" stroke-width="1.2"/>
<rect x="54.70" y="473.85" width="67.68" height="3.50" fill="#b0062e"/>
<rect x="54.70" y="477.35" width="23.10" height="3.20" fill="#2a4a8a"/>
<text x="51.20" y="478.85" font-size="6.4" text-anchor="end" textLength="32.10" lengthAdjust="spacingAndGlyphs" fill="#222">Nr4a2Site2</text>
<circle cx="131.99" cy="475.85" r="0.78" fill="#3c3c3c"/>
<line x1="54.55" y1="399.20" x2="54.55" y2="486.80" stroke="#1a1a1a" stroke-width="1.1"/>
<line x1="52.00" y1="484.10" x2="196.50" y2="484.10" stroke="#1a1a1a" stroke-width="1.1"/>
<line x1="54.70" y1="484.10" x2="54.70" y2="486.80" stroke="#1a1a1a" stroke-width="1"/>
<text x="54.70" y="495.70" font-size="6.9" text-anchor="middle" fill="#222">0</text>
<line x1="77.80" y1="484.10" x2="77.80" y2="486.80" stroke="#1a1a1a" stroke-width="1"/>
<text x="77.80" y="495.70" font-size="6.9" text-anchor="middle" fill="#222">1</text>
<line x1="100.90" y1="484.10" x2="100.90" y2="486.80" stroke="#1a1a1a" stroke-width="1"/>
<text x="100.90" y="495.70" font-size="6.9" text-anchor="middle" fill="#222">2</text>
<line x1="124.00" y1="484.10" x2="124.00" y2="486.80" stroke="#1a1a1a" stroke-width="1"/>
<text x="124.00" y="495.70" font-size="6.9" text-anchor="middle" fill="#222">3</text>
<line x1="147.10" y1="484.10" x2="147.10" y2="486.80" stroke="#1a1a1a" stroke-width="1"/>
<text x="147.10" y="495.70" font-size="6.9" text-anchor="middle" fill="#222">4</text>
<line x1="170.20" y1="484.10" x2="170.20" y2="486.80" stroke="#1a1a1a" stroke-width="1"/>
<text x="170.20" y="495.70" font-size="6.9" text-anchor="middle" fill="#222">5</text>
<line x1="193.30" y1="484.10" x2="193.30" y2="486.80" stroke="#1a1a1a" stroke-width="1"/>
<text x="193.30" y="495.70" font-size="6.9" text-anchor="middle" fill="#222">6</text>
<rect x="200.10" y="435.10" width="4.40" height="4.40" fill="#b0062e"/>
<text x="207.50" y="438.90" font-size="6.0" textLength="25.30" lengthAdjust="spacingAndGlyphs" fill="#222">c-Myc-PIG</text>
<rect x="200.10" y="444.00" width="4.40" height="4.40" fill="#2a4a8a"/>
<text x="207.50" y="447.80" font-size="6.0" textLength="8.70" lengthAdjust="spacingAndGlyphs" fill="#222">PIG</text>
<line x1="292.90" y1="399.60" x2="292.90" y2="484.60" stroke="#1a1a1a" stroke-width="1.3"/>
<line x1="289.80" y1="484.10" x2="390.00" y2="484.10" stroke="#1a1a1a" stroke-width="1.25"/>
<line x1="290.00" y1="484.00" x2="292.80" y2="484.00" stroke="#1a1a1a" stroke-width="1"/>
<text x="287.00" y="486.80" font-size="6.9" text-anchor="end" fill="#222">0</text>
<line x1="290.00" y1="456.73" x2="292.80" y2="456.73" stroke="#1a1a1a" stroke-width="1"/>
<text x="287.00" y="459.53" font-size="6.9" text-anchor="end" fill="#222">30</text>
<line x1="290.00" y1="429.46" x2="292.80" y2="429.46" stroke="#1a1a1a" stroke-width="1"/>
<text x="287.00" y="432.26" font-size="6.9" text-anchor="end" fill="#222">60</text>
<line x1="290.00" y1="402.19" x2="292.80" y2="402.19" stroke="#1a1a1a" stroke-width="1"/>
<text x="287.00" y="404.99" font-size="6.9" text-anchor="end" fill="#222">90</text>
<line x1="308.50" y1="437.64" x2="308.50" y2="411.73" stroke="#474747" stroke-width="1.1"/>
<path d="M307.30 411.13 H309.70 L309.00 412.73 H308.00 Z" fill="#222"/>
<rect x="305.90" y="437.64" width="5.00" height="46.36" fill="#b0062e"/>
<rect x="300.60" y="482.60" width="3.40" height="1.40" fill="#1c2448"/>
<line x1="301.20" y1="482.10" x2="303.40" y2="482.10" stroke="#1a1a1a" stroke-width="1.1"/>
<line x1="299.20" y1="408.20" x2="310.80" y2="408.20" stroke="#333" stroke-width="1.2"/>
<circle cx="305.00" cy="405.30" r="0.78" fill="#3c3c3c"/>
<text x="307.50" y="491.00" font-size="7.3" text-anchor="end" textLength="32.50" lengthAdjust="spacingAndGlyphs" fill="#222" transform="rotate(-45 307.50 491.00)">Jmjd3Site1</text>
<line x1="332.50" y1="482.00" x2="332.50" y2="481.27" stroke="#474747" stroke-width="1.1"/>
<path d="M331.30 480.67 H333.70 L333.00 482.27 H332.00 Z" fill="#222"/>
<rect x="329.60" y="482.00" width="5.00" height="2.00" fill="#b0062e"/>
<rect x="324.30" y="482.60" width="3.40" height="1.40" fill="#1c2448"/>
<line x1="324.90" y1="482.10" x2="327.10" y2="482.10" stroke="#1a1a1a" stroke-width="1.1"/>
<line x1="322.30" y1="469.70" x2="334.20" y2="469.70" stroke="#333" stroke-width="1.2"/>
<circle cx="328.25" cy="466.80" r="0.78" fill="#3c3c3c"/>
<text x="331.20" y="491.00" font-size="7.3" text-anchor="end" textLength="32.50" lengthAdjust="spacingAndGlyphs" fill="#222" transform="rotate(-45 331.20 491.00)">Jmjd3Site2</text>
<line x1="355.50" y1="462.55" x2="355.50" y2="456.00" stroke="#474747" stroke-width="1.1"/>
<path d="M354.30 455.40 H356.70 L356.00 457.00 H355.00 Z" fill="#222"/>
<rect x="353.30" y="462.55" width="5.00" height="21.45" fill="#b0062e"/>
<rect x="348.00" y="482.60" width="3.40" height="1.40" fill="#1c2448"/>
<line x1="348.60" y1="482.10" x2="350.80" y2="482.10" stroke="#1a1a1a" stroke-width="1.1"/>
<line x1="346.20" y1="450.80" x2="357.70" y2="450.80" stroke="#333" stroke-width="1.2"/>
<circle cx="350.75" cy="447.90" r="0.78" fill="#3c3c3c"/>
<circle cx="353.15" cy="447.90" r="0.78" fill="#3c3c3c"/>
<text x="354.90" y="491.00" font-size="7.3" text-anchor="end" textLength="32.87" lengthAdjust="spacingAndGlyphs" fill="#222" transform="rotate(-45 354.90 491.00)">Nr4a1Site1</text>
<line x1="379.50" y1="481.27" x2="379.50" y2="479.45" stroke="#474747" stroke-width="1.1"/>
<path d="M378.30 478.85 H380.70 L380.00 480.45 H379.00 Z" fill="#222"/>
<rect x="377.00" y="481.27" width="5.00" height="2.73" fill="#b0062e"/>
<rect x="371.70" y="482.60" width="3.40" height="1.40" fill="#1c2448"/>
<line x1="372.30" y1="482.10" x2="374.50" y2="482.10" stroke="#1a1a1a" stroke-width="1.1"/>
<line x1="369.70" y1="474.20" x2="381.50" y2="474.20" stroke="#333" stroke-width="1.2"/>
<circle cx="375.60" cy="471.30" r="0.78" fill="#3c3c3c"/>
<text x="378.60" y="491.00" font-size="7.3" text-anchor="end" textLength="32.87" lengthAdjust="spacingAndGlyphs" fill="#222" transform="rotate(-45 378.60 491.00)">Nr4a2Site2</text>
<text transform="translate(274.4 442) rotate(-90)" font-size="9.2" text-anchor="middle" textLength="72.7" lengthAdjust="spacingAndGlyphs" fill="#222">Enrichment change fold</text>
<rect x="393.40" y="434.90" width="4.60" height="4.70" fill="#2a4a8a"/>
<text x="401.00" y="439.40" font-size="6.2" fill="#222">IgG</text>
<rect x="393.40" y="444.20" width="4.60" height="4.70" fill="#b0062e"/>
<text x="401.00" y="448.60" font-size="6.2" textLength="22.50" lengthAdjust="spacingAndGlyphs" fill="#222">c-Myc Ab</text>
<line x1="54.50" y1="551.20" x2="54.50" y2="621.85" stroke="#1a1a1a" stroke-width="1.2"/>
<line x1="51.20" y1="621.35" x2="148.70" y2="621.35" stroke="#1a1a1a" stroke-width="1.3"/>
<line x1="51.90" y1="621.35" x2="54.50" y2="621.35" stroke="#1a1a1a" stroke-width="1"/>
<text x="49.00" y="623.75" font-size="6.9" text-anchor="end" fill="#222">0</text>
<line x1="51.90" y1="598.85" x2="54.50" y2="598.85" stroke="#1a1a1a" stroke-width="1"/>
<text x="49.00" y="601.25" font-size="6.9" text-anchor="end" fill="#222">2</text>
<line x1="51.90" y1="576.35" x2="54.50" y2="576.35" stroke="#1a1a1a" stroke-width="1"/>
<text x="49.00" y="578.75" font-size="6.9" text-anchor="end" fill="#222">4</text>
<line x1="51.90" y1="553.85" x2="54.50" y2="553.85" stroke="#1a1a1a" stroke-width="1"/>
<text x="49.00" y="556.25" font-size="6.9" text-anchor="end" fill="#222">6</text>
<line x1="63.50" y1="587.94" x2="63.50" y2="586.81" stroke="#474747" stroke-width="1.1"/>
<path d="M62.30 586.21 H64.70 L64.00 587.81 H63.00 Z" fill="#222"/>
<rect x="60.70" y="587.94" width="5.00" height="33.41" fill="#2a4a8a"/>
<text x="65.50" y="628.30" font-size="7.2" text-anchor="end" textLength="29.24" lengthAdjust="spacingAndGlyphs" fill="#222" transform="rotate(-45 65.50 628.30)">WT-MSCV</text>
<line x1="82.50" y1="615.73" x2="82.50" y2="613.02" stroke="#474747" stroke-width="1.1"/>
<path d="M81.30 612.42 H83.70 L83.00 614.02 H82.00 Z" fill="#222"/>
<rect x="80.00" y="615.73" width="5.00" height="5.62" fill="#2a4a8a"/>
<text x="84.80" y="628.30" font-size="7.2" text-anchor="end" textLength="31.99" lengthAdjust="spacingAndGlyphs" fill="#222" transform="rotate(-45 84.80 628.30)">HET-MSCV</text>
<line x1="102.50" y1="611.00" x2="102.50" y2="609.54" stroke="#474747" stroke-width="1.1"/>
<path d="M101.30 608.94 H103.70 L103.00 610.54 H102.00 Z" fill="#222"/>
<rect x="99.60" y="611.00" width="5.00" height="10.35" fill="#2a4a8a"/>
<text x="104.40" y="628.30" font-size="7.2" text-anchor="end" textLength="33.37" lengthAdjust="spacingAndGlyphs" fill="#222" transform="rotate(-45 104.40 628.30)">HET-JMJD3</text>
<line x1="121.50" y1="592.21" x2="121.50" y2="590.52" stroke="#474747" stroke-width="1.1"/>
<path d="M120.30 589.92 H122.70 L122.00 591.52 H121.00 Z" fill="#222"/>
<rect x="119.00" y="592.21" width="5.00" height="29.14" fill="#2a4a8a"/>
<text x="123.80" y="628.30" font-size="7.2" text-anchor="end" textLength="30.97" lengthAdjust="spacingAndGlyphs" fill="#222" transform="rotate(-45 123.80 628.30)">HET-Nr4a1</text>
<line x1="140.50" y1="583.21" x2="140.50" y2="567.12" stroke="#474747" stroke-width="1.1"/>
<path d="M139.30 566.52 H141.70 L141.00 568.12 H140.00 Z" fill="#222"/>
<rect x="138.30" y="583.21" width="5.00" height="38.14" fill="#2a4a8a"/>
<text x="143.10" y="628.30" font-size="7.2" text-anchor="end" textLength="30.97" lengthAdjust="spacingAndGlyphs" fill="#222" transform="rotate(-45 143.10 628.30)">HET-Nr4a2</text>
<line x1="80.00" y1="596.20" x2="104.60" y2="596.20" stroke="#4a4a4a" stroke-width="1.3"/>
<circle cx="89.90" cy="593.50" r="0.78" fill="#3c3c3c"/>
<circle cx="92.30" cy="593.50" r="0.78" fill="#3c3c3c"/>
<circle cx="94.70" cy="593.50" r="0.78" fill="#3c3c3c"/>
<line x1="80.00" y1="573.70" x2="124.00" y2="573.70" stroke="#4a4a4a" stroke-width="1.3"/>
<circle cx="102.00" cy="571.00" r="0.78" fill="#3c3c3c"/>
<line x1="80.00" y1="560.20" x2="143.20" y2="560.20" stroke="#4a4a4a" stroke-width="1.3"/>
<circle cx="109.20" cy="557.50" r="0.78" fill="#3c3c3c"/>
<circle cx="111.60" cy="557.50" r="0.78" fill="#3c3c3c"/>
<circle cx="114.00" cy="557.50" r="0.78" fill="#3c3c3c"/>
<g transform="translate(39.9 602.0) rotate(-90)" fill="#222"><text x="0" y="0" font-size="8.8" textLength="29.1" lengthAdjust="spacingAndGlyphs">HSC# X10</text><text x="29.400000000000002" y="-3.6" font-size="5.6">3</text></g>
<line x1="197.30" y1="551.00" x2="197.30" y2="621.85" stroke="#1a1a1a" stroke-width="1.2"/>
<line x1="194.00" y1="621.35" x2="291.60" y2="621.35" stroke="#1a1a1a" stroke-width="1.3"/>
<line x1="194.70" y1="621.35" x2="197.30" y2="621.35" stroke="#1a1a1a" stroke-width="1"/>
<text x="191.40" y="623.75" font-size="6.9" text-anchor="end" fill="#222">0</text>
<line x1="194.70" y1="607.95" x2="197.30" y2="607.95" stroke="#1a1a1a" stroke-width="1"/>
<text x="191.40" y="610.35" font-size="6.9" text-anchor="end" fill="#222">5</text>
<line x1="194.70" y1="594.55" x2="197.30" y2="594.55" stroke="#1a1a1a" stroke-width="1"/>
<text x="191.40" y="596.95" font-size="6.9" text-anchor="end" fill="#222">10</text>
<line x1="194.70" y1="581.15" x2="197.30" y2="581.15" stroke="#1a1a1a" stroke-width="1"/>
<text x="191.40" y="583.55" font-size="6.9" text-anchor="end" fill="#222">15</text>
<line x1="194.70" y1="567.75" x2="197.30" y2="567.75" stroke="#1a1a1a" stroke-width="1"/>
<text x="191.40" y="570.15" font-size="6.9" text-anchor="end" fill="#222">20</text>
<line x1="194.70" y1="554.35" x2="197.30" y2="554.35" stroke="#1a1a1a" stroke-width="1"/>
<text x="191.40" y="556.75" font-size="6.9" text-anchor="end" fill="#222">25</text>
<line x1="208.50" y1="599.37" x2="208.50" y2="588.92" stroke="#474747" stroke-width="1.1"/>
<path d="M207.30 588.32 H209.70 L209.00 589.92 H208.00 Z" fill="#222"/>
<rect x="206.40" y="599.37" width="4.80" height="21.98" fill="#2a4a8a"/>
<text x="211.10" y="628.30" font-size="7.2" text-anchor="end" textLength="29.24" lengthAdjust="spacingAndGlyphs" fill="#222" transform="rotate(-45 211.10 628.30)">WT-MSCV</text>
<line x1="228.50" y1="563.73" x2="228.50" y2="558.64" stroke="#474747" stroke-width="1.1"/>
<path d="M227.30 558.04 H229.70 L229.00 559.64 H228.00 Z" fill="#222"/>
<rect x="225.80" y="563.73" width="4.80" height="57.62" fill="#2a4a8a"/>
<text x="230.50" y="628.30" font-size="7.2" text-anchor="end" textLength="31.99" lengthAdjust="spacingAndGlyphs" fill="#222" transform="rotate(-45 230.50 628.30)">HET-MSCV</text>
<line x1="247.50" y1="580.88" x2="247.50" y2="576.86" stroke="#474747" stroke-width="1.1"/>
<path d="M246.30 576.26 H248.70 L248.00 577.86 H247.00 Z" fill="#222"/>
<rect x="245.20" y="580.88" width="4.80" height="40.47" fill="#2a4a8a"/>
<text x="249.90" y="628.30" font-size="7.2" text-anchor="end" textLength="33.37" lengthAdjust="spacingAndGlyphs" fill="#222" transform="rotate(-45 249.90 628.30)">HET-JMJD3</text>
<line x1="263.50" y1="599.37" x2="263.50" y2="592.41" stroke="#474747" stroke-width="1.1"/>
<path d="M262.30 591.81 H264.70 L264.00 593.41 H263.00 Z" fill="#222"/>
<rect x="261.30" y="599.37" width="4.80" height="21.98" fill="#2a4a8a"/>
<text x="266.00" y="628.30" font-size="7.2" text-anchor="end" textLength="30.97" lengthAdjust="spacingAndGlyphs" fill="#222" transform="rotate(-45 266.00 628.30)">HET-Nr4a1</text>
<line x1="283.50" y1="598.57" x2="283.50" y2="584.63" stroke="#474747" stroke-width="1.1"/>
<path d="M282.30 584.03 H284.70 L284.00 585.63 H283.00 Z" fill="#222"/>
<rect x="281.00" y="598.57" width="4.80" height="22.78" fill="#2a4a8a"/>
<text x="285.70" y="628.30" font-size="7.2" text-anchor="end" textLength="30.97" lengthAdjust="spacingAndGlyphs" fill="#222" transform="rotate(-45 285.70 628.30)">HET-Nr4a2</text>
<line x1="206.40" y1="551.30" x2="226.70" y2="551.30" stroke="#4a4a4a" stroke-width="1.3"/>
<circle cx="215.35" cy="548.60" r="0.78" fill="#3c3c3c"/>
<circle cx="217.75" cy="548.60" r="0.78" fill="#3c3c3c"/>
<line x1="229.40" y1="551.30" x2="250.00" y2="551.30" stroke="#4a4a4a" stroke-width="1.3"/>
<circle cx="238.50" cy="548.60" r="0.78" fill="#3c3c3c"/>
<circle cx="240.90" cy="548.60" r="0.78" fill="#3c3c3c"/>
<line x1="229.40" y1="542.80" x2="266.20" y2="542.80" stroke="#4a4a4a" stroke-width="1.3"/>
<circle cx="246.60" cy="540.10" r="0.78" fill="#3c3c3c"/>
<circle cx="249.00" cy="540.10" r="0.78" fill="#3c3c3c"/>
<line x1="229.40" y1="534.20" x2="285.80" y2="534.20" stroke="#4a4a4a" stroke-width="1.3"/>
<circle cx="256.40" cy="531.50" r="0.78" fill="#3c3c3c"/>
<circle cx="258.80" cy="531.50" r="0.78" fill="#3c3c3c"/>
<text transform="translate(177.9 586.2) rotate(-90)" font-size="9.0" text-anchor="middle" textLength="59.4" lengthAdjust="spacingAndGlyphs" fill="#222">%apoptosis in HSCs</text>
<line x1="342.40" y1="551.20" x2="342.40" y2="621.85" stroke="#1a1a1a" stroke-width="1.2"/>
<line x1="339.10" y1="621.35" x2="439.80" y2="621.35" stroke="#1a1a1a" stroke-width="1.3"/>
<line x1="339.80" y1="621.35" x2="342.40" y2="621.35" stroke="#1a1a1a" stroke-width="1"/>
<text x="336.30" y="623.75" font-size="6.9" text-anchor="end" fill="#222">0</text>
<line x1="339.80" y1="607.85" x2="342.40" y2="607.85" stroke="#1a1a1a" stroke-width="1"/>
<text x="336.30" y="610.25" font-size="6.9" text-anchor="end" fill="#222">10</text>
<line x1="339.80" y1="594.35" x2="342.40" y2="594.35" stroke="#1a1a1a" stroke-width="1"/>
<text x="336.30" y="596.75" font-size="6.9" text-anchor="end" fill="#222">20</text>
<line x1="339.80" y1="580.85" x2="342.40" y2="580.85" stroke="#1a1a1a" stroke-width="1"/>
<text x="336.30" y="583.25" font-size="6.9" text-anchor="end" fill="#222">30</text>
<line x1="339.80" y1="567.35" x2="342.40" y2="567.35" stroke="#1a1a1a" stroke-width="1"/>
<text x="336.30" y="569.75" font-size="6.9" text-anchor="end" fill="#222">40</text>
<line x1="339.80" y1="553.85" x2="342.40" y2="553.85" stroke="#1a1a1a" stroke-width="1"/>
<text x="336.30" y="556.25" font-size="6.9" text-anchor="end" fill="#222">50</text>
<line x1="353.50" y1="577.07" x2="353.50" y2="570.19" stroke="#474747" stroke-width="1.1"/>
<path d="M352.30 569.59 H354.70 L354.00 571.19 H353.00 Z" fill="#222"/>
<rect x="351.10" y="577.07" width="4.90" height="44.28" fill="#2a4a8a"/>
<text x="355.85" y="628.30" font-size="7.2" text-anchor="end" textLength="29.24" lengthAdjust="spacingAndGlyphs" fill="#222" transform="rotate(-45 355.85 628.30)">WT-MSCV</text>
<line x1="373.50" y1="593.95" x2="373.50" y2="590.57" stroke="#474747" stroke-width="1.1"/>
<path d="M372.30 589.97 H374.70 L374.00 591.57 H373.00 Z" fill="#222"/>
<rect x="370.70" y="593.95" width="4.90" height="27.41" fill="#2a4a8a"/>
<text x="375.45" y="628.30" font-size="7.2" text-anchor="end" textLength="31.99" lengthAdjust="spacingAndGlyphs" fill="#222" transform="rotate(-45 375.45 628.30)">HET-MSCV</text>
<line x1="392.50" y1="598.40" x2="392.50" y2="593.95" stroke="#474747" stroke-width="1.1"/>
<path d="M391.30 593.35 H393.70 L393.00 594.95 H392.00 Z" fill="#222"/>
<rect x="390.00" y="598.40" width="4.90" height="22.95" fill="#2a4a8a"/>
<text x="394.75" y="628.30" font-size="7.2" text-anchor="end" textLength="33.37" lengthAdjust="spacingAndGlyphs" fill="#222" transform="rotate(-45 394.75 628.30)">HET-JMJD3</text>
<line x1="412.50" y1="577.07" x2="412.50" y2="570.73" stroke="#474747" stroke-width="1.1"/>
<path d="M411.30 570.12 H413.70 L413.00 571.73 H412.00 Z" fill="#222"/>
<rect x="409.60" y="577.07" width="4.90" height="44.28" fill="#2a4a8a"/>
<text x="414.35" y="628.30" font-size="7.2" text-anchor="end" textLength="30.97" lengthAdjust="spacingAndGlyphs" fill="#222" transform="rotate(-45 414.35 628.30)">HET-Nr4a1</text>
<line x1="431.50" y1="571.40" x2="431.50" y2="561.68" stroke="#474747" stroke-width="1.1"/>
<path d="M430.30 561.08 H432.70 L432.00 562.68 H431.00 Z" fill="#222"/>
<rect x="428.90" y="571.40" width="4.90" height="49.95" fill="#2a4a8a"/>
<text x="433.65" y="628.30" font-size="7.2" text-anchor="end" textLength="30.97" lengthAdjust="spacingAndGlyphs" fill="#222" transform="rotate(-45 433.65 628.30)">HET-Nr4a2</text>
<line x1="351.10" y1="565.10" x2="371.90" y2="565.10" stroke="#4a4a4a" stroke-width="1.3"/>
<circle cx="360.30" cy="562.40" r="0.78" fill="#3c3c3c"/>
<circle cx="362.70" cy="562.40" r="0.78" fill="#3c3c3c"/>
<line x1="372.40" y1="559.90" x2="414.40" y2="559.90" stroke="#4a4a4a" stroke-width="1.3"/>
<circle cx="392.20" cy="557.20" r="0.78" fill="#3c3c3c"/>
<circle cx="394.60" cy="557.20" r="0.78" fill="#3c3c3c"/>
<line x1="372.40" y1="549.50" x2="433.80" y2="549.50" stroke="#4a4a4a" stroke-width="1.3"/>
<circle cx="401.90" cy="546.80" r="0.78" fill="#3c3c3c"/>
<circle cx="404.30" cy="546.80" r="0.78" fill="#3c3c3c"/>
<text transform="translate(323.0 586.2) rotate(-90)" font-size="9.0" text-anchor="middle" textLength="38.8" lengthAdjust="spacingAndGlyphs" fill="#222">%G0 in HSCs</text>
</svg>
</body></html>
